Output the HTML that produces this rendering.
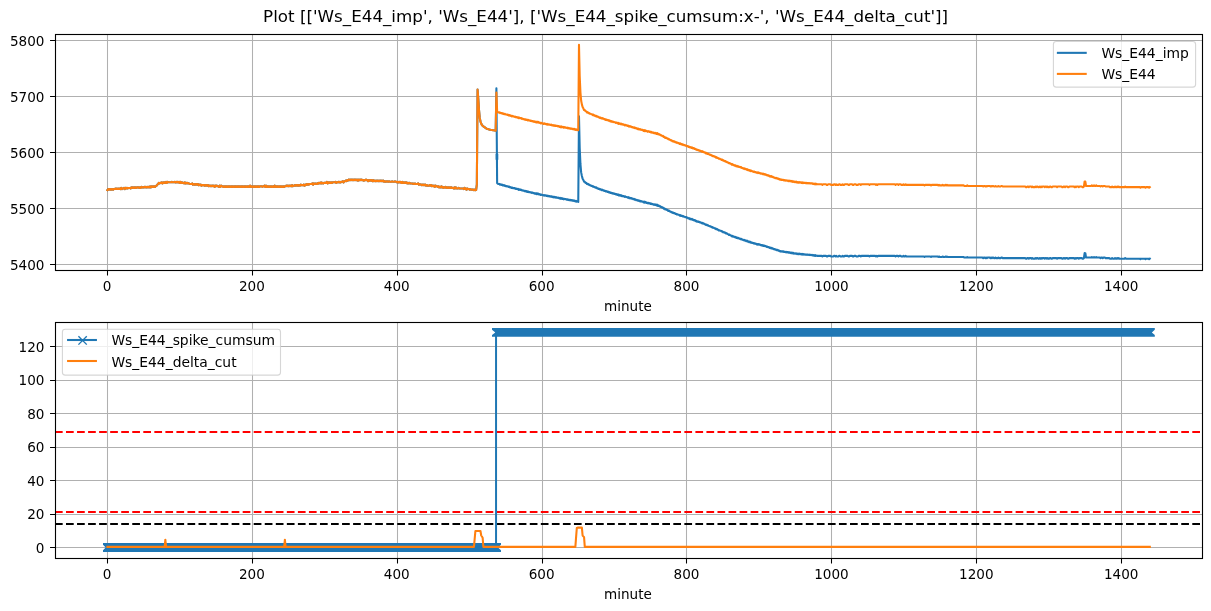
<!DOCTYPE html>
<html lang="en"><head><meta charset="utf-8"><title>Plot Ws_E44</title>
<style>html,body{margin:0;padding:0;background:#fff;overflow:hidden}svg{display:block}text{font-family:"DejaVu Sans","Liberation Sans",sans-serif;fill:#000}</style></head><body>
<svg width="1211" height="611" viewBox="0 0 1211 611">
<rect width="1211" height="611" fill="#fff"/>
<defs><clipPath id="ct"><rect x="55.5" y="34.5" width="1147" height="236"/></clipPath><clipPath id="cb"><rect x="55.5" y="322.5" width="1147" height="236"/></clipPath></defs>
<text x="605.6" y="22.3" font-size="16.73" text-anchor="middle">Plot [['Ws_E44_imp', 'Ws_E44'], ['Ws_E44_spike_cumsum:x-', 'Ws_E44_delta_cut']]</text>
<path d="M107.5 34.5V270.5M252.5 34.5V270.5M397.5 34.5V270.5M542.5 34.5V270.5M686.5 34.5V270.5M831.5 34.5V270.5M976.5 34.5V270.5M1121.5 34.5V270.5M55.5 264.5H1202.5M55.5 208.5H1202.5M55.5 152.5H1202.5M55.5 96.5H1202.5M55.5 40.5H1202.5" stroke="#b0b0b0" stroke-width="1.05" fill="none"/>
<g clip-path="url(#ct)" fill="none" stroke-width="2.08" stroke-linejoin="round" stroke-linecap="square">
<polyline stroke="#1f77b4" points="107.4,190.17 108.12,189.05 108.85,189.61 109.57,189.05 110.3,189.61 111.02,189.05 111.75,189.61 112.47,189.05 113.2,189.61 113.92,189.05 114.64,189.05 115.37,188.49 116.09,189.05 116.82,188.49 117.54,189.05 118.27,188.49 118.99,189.05 119.71,188.49 120.44,189.05 121.16,187.93 121.89,189.05 122.61,188.49 123.34,188.49 124.06,187.93 124.79,189.05 125.51,187.93 126.23,188.49 126.96,187.93 127.68,188.49 128.41,187.93 129.13,187.93 129.86,187.93 130.58,188.49 131.31,187.37 132.03,187.93 132.75,187.37 133.48,187.93 134.2,187.37 134.93,187.93 135.65,187.37 136.38,187.93 137.1,187.37 137.82,187.37 138.55,187.37 139.27,187.93 140,187.37 140.72,187.93 141.45,186.81 142.17,187.37 142.9,187.37 143.62,187.37 144.34,186.81 145.07,187.37 145.79,186.81 146.52,187.37 147.24,186.81 147.97,187.37 148.69,186.81 149.42,187.37 150.14,186.25 150.86,187.37 151.59,186.25 152.31,186.81 153.04,186.25 153.76,186.81 154.49,186.25 155.21,186.81 155.93,185.69 156.66,185.69 157.38,184.57 158.11,184.01 158.83,182.89 159.56,183.45 160.28,182.89 161.01,182.89 161.73,182.33 162.45,183.45 163.18,182.33 163.9,182.89 164.63,182.33 165.35,182.89 166.08,181.77 166.8,182.89 167.53,181.77 168.25,182.33 168.97,182.33 169.7,182.33 170.42,182.33 171.15,182.33 171.87,181.77 172.6,182.33 173.32,182.33 174.04,182.33 174.77,181.77 175.49,182.33 176.22,181.77 176.94,182.33 177.67,181.77 178.39,182.33 179.12,181.77 179.84,182.89 180.56,181.77 181.29,182.89 182.01,182.33 182.74,182.89 183.46,182.89 184.19,183.45 184.91,182.33 185.64,183.45 186.36,182.89 187.08,183.45 187.81,182.89 188.53,183.45 189.26,183.45 189.98,184.01 190.71,184.01 191.43,184.01 192.15,183.45 192.88,184.57 193.6,184.01 194.33,184.57 195.05,184.01 195.78,184.57 196.5,184.01 197.23,184.57 197.95,184.01 198.67,185.13 199.4,184.57 200.12,185.13 200.85,184.57 201.57,185.69 202.3,185.13 203.02,185.13 203.75,185.13 204.47,185.69 205.19,185.13 205.92,185.69 206.64,185.13 207.37,185.69 208.09,185.13 208.82,186.25 209.54,185.69 210.26,186.25 210.99,185.69 211.71,186.25 212.44,185.69 213.16,186.25 213.89,185.69 214.61,186.81 215.34,185.69 216.06,186.25 216.78,185.69 217.51,186.25 218.23,186.25 218.96,186.81 219.68,185.69 220.41,186.81 221.13,185.69 221.86,186.25 222.58,186.25 223.3,186.81 224.03,186.25 224.75,186.81 225.48,186.25 226.2,186.81 226.93,186.25 227.65,186.81 228.37,186.25 229.1,186.81 229.82,186.25 230.55,186.81 231.27,186.25 232,186.81 232.72,186.25 233.45,186.81 234.17,186.25 234.89,186.81 235.62,186.25 236.34,186.81 237.07,186.25 237.79,186.81 238.52,186.25 239.24,186.81 239.97,186.25 240.69,186.81 241.41,186.25 242.14,186.81 242.86,186.25 243.59,186.81 244.31,186.25 245.04,186.81 245.76,186.25 246.48,186.81 247.21,186.25 247.93,186.81 248.66,186.25 249.38,186.81 250.11,185.69 250.83,186.81 251.56,186.25 252.28,186.81 253,186.25 253.73,186.81 254.45,186.25 255.18,186.81 255.9,186.25 256.63,186.81 257.35,186.25 258.08,186.81 258.8,186.25 259.52,186.81 260.25,186.25 260.97,186.25 261.7,186.25 262.42,186.81 263.15,186.25 263.87,186.25 264.59,185.69 265.32,186.81 266.04,185.69 266.77,186.81 267.49,186.25 268.22,186.81 268.94,186.25 269.67,186.81 270.39,186.25 271.11,186.81 271.84,186.25 272.56,186.81 273.29,186.25 274.01,186.81 274.74,185.69 275.46,186.81 276.19,186.25 276.91,186.81 277.63,186.25 278.36,186.81 279.08,186.25 279.81,186.81 280.53,186.25 281.26,186.81 281.98,186.25 282.7,186.81 283.43,186.25 284.15,186.81 284.88,186.25 285.6,186.25 286.33,185.69 287.05,186.25 287.78,185.69 288.5,186.25 289.22,185.69 289.95,186.25 290.67,185.69 291.4,186.25 292.12,185.13 292.85,186.25 293.57,185.69 294.3,185.69 295.02,185.13 295.74,185.69 296.47,185.13 297.19,185.69 297.92,185.13 298.64,185.69 299.37,185.13 300.09,185.69 300.81,184.57 301.54,185.13 302.26,185.13 302.99,185.13 303.71,184.57 304.44,185.69 305.16,184.57 305.89,185.13 306.61,184.01 307.33,184.57 308.06,184.01 308.78,184.57 309.51,184.01 310.23,184.01 310.96,184.01 311.68,184.01 312.41,183.45 313.13,184.57 313.85,183.45 314.58,184.01 315.3,183.45 316.03,184.01 316.75,183.45 317.48,184.01 318.2,182.89 318.92,183.45 319.65,182.89 320.37,183.45 321.1,182.33 321.82,183.45 322.55,182.89 323.27,183.45 324,182.89 324.72,182.89 325.44,182.89 326.17,182.89 326.89,181.77 327.62,183.45 328.34,182.33 329.07,182.89 329.79,182.33 330.52,182.89 331.24,182.33 331.96,182.89 332.69,182.33 333.41,182.33 334.14,182.33 334.86,182.33 335.59,181.77 336.31,182.89 337.03,182.33 337.76,182.33 338.48,181.77 339.21,182.33 339.93,181.77 340.66,182.33 341.38,181.77 342.11,181.77 342.83,181.21 343.55,182.33 344.28,181.21 345,181.21 345.73,180.65 346.45,181.21 347.18,180.09 347.9,180.66 348.63,179.54 349.35,180.1 350.07,179.54 350.8,180.1 351.52,179.54 352.25,180.1 352.97,179.54 353.7,180.1 354.42,179.54 355.14,180.1 355.87,179.54 356.59,180.1 357.32,179.54 358.04,180.66 358.77,179.54 359.49,180.1 360.22,179.54 360.94,180.1 361.66,179.54 362.39,180.1 363.11,180.09 363.84,180.66 364.56,180.09 365.29,180.1 366.01,179.54 366.74,180.1 367.46,180.09 368.18,181.21 368.91,180.09 369.63,180.66 370.36,180.09 371.08,180.66 371.81,180.09 372.53,181.21 373.25,180.09 373.98,181.21 374.7,180.65 375.43,181.21 376.15,180.65 376.88,181.21 377.6,180.65 378.33,181.21 379.05,180.65 379.77,181.21 380.5,180.65 381.22,181.21 381.95,180.65 382.67,181.21 383.4,180.65 384.12,181.77 384.85,181.21 385.57,181.77 386.29,181.21 387.02,181.77 387.74,181.21 388.47,181.77 389.19,181.21 389.92,181.77 390.64,181.77 391.36,181.77 392.09,181.21 392.81,181.77 393.54,181.77 394.26,181.77 394.99,181.21 395.71,181.77 396.44,181.77 397.16,182.33 397.88,181.77 398.61,182.33 399.33,181.77 400.06,182.33 400.78,181.77 401.51,182.89 402.23,181.77 402.96,182.89 403.68,182.33 404.4,182.89 405.13,182.33 405.85,182.89 406.58,182.33 407.3,183.45 408.03,182.89 408.75,183.45 409.47,182.89 410.2,183.45 410.92,183.45 411.65,183.45 412.37,183.45 413.1,184.01 413.82,183.45 414.55,184.01 415.27,183.45 415.99,184.01 416.72,184.01 417.44,184.01 418.17,183.45 418.89,184.57 419.62,184.01 420.34,184.57 421.07,184.57 421.79,185.13 422.51,184.57 423.24,185.13 423.96,184.57 424.69,185.13 425.41,184.57 426.14,185.69 426.86,185.13 427.58,185.69 428.31,185.69 429.03,185.69 429.76,185.13 430.48,185.69 431.21,185.13 431.93,186.25 432.66,185.69 433.38,186.25 434.1,185.69 434.83,186.81 435.55,185.69 436.28,186.25 437,186.25 437.73,186.81 438.45,186.25 439.18,187.37 439.9,186.81 440.62,187.37 441.35,186.25 442.07,187.37 442.8,186.81 443.52,187.93 444.25,187.37 444.97,187.37 445.69,186.81 446.42,187.93 447.14,187.37 447.87,187.93 448.59,187.37 449.32,187.93 450.04,187.37 450.77,187.93 451.49,187.37 452.21,187.93 452.94,187.93 453.66,188.49 454.39,187.37 455.11,188.49 455.84,187.37 456.56,188.49 457.29,188.49 458.01,188.49 458.73,187.93 459.46,188.49 460.18,188.49 460.91,188.49 461.63,188.49 462.36,188.49 463.08,188.49 463.8,189.05 464.53,187.93 465.25,189.05 465.98,188.49 466.7,189.61 467.43,188.49 468.15,189.05 468.88,189.05 469.6,189.61 470.32,189.05 471.05,189.61 471.77,189.61 472.5,189.61 473.22,189.61 473.95,190.17 474.67,189.61 475.4,190.17 476.12,190.04 476.84,184.39 477.57,89.6 478.29,98.91 479.02,110.18 479.74,117.91 480.47,121.34 481.19,123.57 481.91,125.02 482.64,125.82 483.36,126.3 484.09,126.85 484.81,127.4 485.54,127.95 486.26,128.49 486.99,128.78 487.71,128.99 488.43,129.21 489.16,129.43 489.88,129.64 490.61,129.84 491.33,129.96 492.06,130.08 492.78,130.2 493.51,130.33 494.23,130.45 494.95,130.57 495.68,130.7 496.4,88.3 497.13,183.01 497.85,183.79 498.58,183.99 499.3,183.91 500.02,184.7 500.75,184.41 501.47,184.99 502.2,184.67 502.92,185.5 503.65,185.06 504.37,185.82 505.1,185.51 505.82,186.14 506.54,186.04 507.27,186.54 507.99,186.27 508.72,186.99 509.44,186.59 510.17,187.47 510.89,187.16 511.62,187.96 512.34,187.51 513.06,188.16 513.79,187.93 514.51,188.45 515.24,188.22 515.96,189.02 516.69,188.64 517.41,189.22 518.13,188.81 518.86,189.87 519.58,189.27 520.31,189.9 521.03,189.57 521.76,190.44 522.48,190.18 523.21,190.81 523.93,190.55 524.65,191.2 525.38,190.85 526.1,191.64 526.83,191.13 527.55,191.94 528.28,191.5 529,192.22 529.73,191.97 530.45,192.57 531.17,192.27 531.9,192.9 532.62,192.57 533.35,193.24 534.07,193 534.8,193.61 535.52,193.21 536.24,194.08 536.97,193.22 537.69,194.12 538.42,193.55 539.14,194.54 539.87,194.18 540.59,194.92 541.32,194.48 542.04,195.08 542.76,194.93 543.49,195.48 544.21,194.99 544.94,195.6 545.66,195.33 546.39,195.93 547.11,195.5 547.84,196.26 548.56,195.84 549.28,196.42 550.01,196.2 550.73,196.67 551.46,196.23 552.18,197.07 552.91,196.62 553.63,197.31 554.35,196.83 555.08,197.57 555.8,197.08 556.53,197.67 557.25,197.48 557.98,198 558.7,197.65 559.43,198.43 560.15,197.94 560.87,198.9 561.6,198.06 562.32,198.82 563.05,198.47 563.77,199.29 564.5,198.7 565.22,199.28 565.95,199.11 566.67,199.6 567.39,199.25 568.12,200.06 568.84,199.48 569.57,200.19 570.29,199.86 571.02,200.49 571.74,200.12 572.46,200.69 573.19,200.35 573.91,200.95 574.64,200.48 575.36,201.5 576.09,200.95 576.81,201.69 577.54,201.08 578.26,201.87 578.98,116.3 579.71,147.91 580.43,163.95 581.16,172.38 581.88,176 582.61,178.65 583.33,179.94 584.06,181.61 584.78,181.74 585.5,182.89 586.23,182.87 586.95,184.01 587.68,183.71 588.4,184.74 589.13,184.53 589.85,185.29 590.57,185.33 591.3,185.86 592.02,185.85 592.75,186.66 593.47,186.23 594.2,187.26 594.92,187 595.65,187.8 596.37,187.43 597.09,188.4 597.82,188.19 598.54,188.94 599.27,188.81 599.99,189.56 600.72,189.24 601.44,190.1 602.17,189.58 602.89,190.39 603.61,190.18 604.34,190.98 605.06,190.76 605.79,191.52 606.51,191.11 607.24,191.91 607.96,191.55 608.68,192.34 609.41,192.01 610.13,192.95 610.86,192.49 611.58,193.31 612.31,193.02 613.03,193.7 613.76,193.36 614.48,193.91 615.2,193.8 615.93,194.48 616.65,194.16 617.38,194.93 618.1,194.34 618.83,195.52 619.55,194.92 620.28,195.68 621,195.11 621.72,196.1 622.45,195.71 623.17,196.39 623.9,196.08 624.62,196.93 625.35,196.4 626.07,197.1 626.79,196.95 627.52,197.59 628.24,197.19 628.97,198.21 629.69,197.66 630.42,198.4 631.14,198.1 631.87,198.81 632.59,198.53 633.31,199.3 634.04,198.88 634.76,199.7 635.49,199.41 636.21,200.2 636.94,199.87 637.66,200.67 638.39,200.27 639.11,201.08 639.83,200.65 640.56,201.41 641.28,201.16 642.01,201.6 642.73,201.45 643.46,202.47 644.18,201.59 644.9,202.67 645.63,201.96 646.35,202.91 647.08,202.66 647.8,203.39 648.53,202.77 649.25,203.47 649.98,203.08 650.7,204.03 651.42,203.54 652.15,204.31 652.87,203.95 653.6,204.7 654.32,204.33 655.05,205.03 655.77,204.47 656.5,205.51 657.22,204.71 657.94,205.85 658.67,205.4 659.39,206.36 660.12,206.13 660.84,207.07 661.57,206.91 662.29,207.8 663.01,207.52 663.74,208.64 664.46,208.3 665.19,209.41 665.91,209.06 666.64,209.93 667.36,209.85 668.09,210.82 668.81,210.44 669.53,211.42 670.26,211.4 670.98,212.08 671.71,211.89 672.43,212.92 673.16,212.56 673.88,213.24 674.61,213 675.33,214.01 676.05,213.72 676.78,214.52 677.5,214.19 678.23,214.83 678.95,214.7 679.68,215.56 680.4,215.06 681.12,216.03 681.85,215.58 682.57,216.44 683.3,216.14 684.02,216.76 684.75,216.74 685.47,217.32 686.2,217.08 686.92,217.85 687.64,217.65 688.37,218.47 689.09,218.13 689.82,219.09 690.54,218.67 691.27,219.43 691.99,218.88 692.72,219.96 693.44,219.66 694.16,220.43 694.89,220.13 695.61,221.1 696.34,220.84 697.06,221.75 697.79,221.37 698.51,222.01 699.23,221.81 699.96,222.47 700.68,222.38 701.41,223.16 702.13,222.77 702.86,223.64 703.58,223.33 704.31,224.11 705.03,224.01 705.75,225.01 706.48,224.52 707.2,225.42 707.93,225.08 708.65,225.91 709.38,225.92 710.1,226.54 710.83,226.38 711.55,227.2 712.27,227.03 713,227.84 713.72,227.66 714.45,228.36 715.17,228.23 715.9,229.25 716.62,228.77 717.34,229.68 718.07,229.64 718.79,230.42 719.52,230.25 720.24,230.79 720.97,230.79 721.69,231.52 722.42,231.27 723.14,232.33 723.86,232.16 724.59,232.77 725.31,232.57 726.04,233.5 726.76,233.3 727.49,234.06 728.21,234.17 728.94,234.88 729.66,234.54 730.38,235.41 731.11,235.45 731.83,236.32 732.56,235.8 733.28,236.76 734.01,236.61 734.73,237.18 735.45,236.92 736.18,237.92 736.9,237.39 737.63,238.22 738.35,237.81 739.08,238.67 739.8,238.5 740.53,239.15 741.25,238.79 741.97,239.66 742.7,239.58 743.42,240.22 744.15,239.83 744.87,240.71 745.6,240.42 746.32,241.19 747.05,240.68 747.77,241.69 748.49,241.32 749.22,242.23 749.94,241.7 750.67,242.74 751.39,242.27 752.12,242.95 752.84,242.89 753.56,243.45 754.29,243.16 755.01,243.84 755.74,243.59 756.46,244.33 757.19,243.95 757.91,244.66 758.64,244.04 759.36,244.78 760.08,244.59 760.81,245.21 761.53,244.98 762.26,245.69 762.98,245.15 763.71,245.93 764.43,245.54 765.16,246.3 765.88,246.03 766.6,246.92 767.33,246.67 768.05,247.24 768.78,246.96 769.5,247.98 770.23,247.6 770.95,248.33 771.67,247.76 772.4,248.69 773.12,248.49 773.85,249.22 774.57,249.16 775.3,249.78 776.02,249.48 776.75,250.14 777.47,249.83 778.19,250.67 778.92,250.36 779.64,251.2 780.37,250.95 781.09,251.61 781.82,251.24 782.54,251.67 783.27,251.38 783.99,252.05 784.71,251.73 785.44,252.22 786.16,251.83 786.89,252.38 787.61,252.06 788.34,252.72 789.06,252.17 789.78,252.86 790.51,252.45 791.23,253.18 791.96,252.55 792.68,253.43 793.41,252.86 794.13,253.75 794.86,253.26 795.58,253.74 796.3,253.27 797.03,254.24 797.75,253.57 798.48,254.19 799.2,253.6 799.93,254.26 800.65,253.87 801.38,254.48 802.1,253.84 802.82,254.68 803.55,254.1 804.27,254.6 805,254.31 805.72,254.82 806.45,254.43 807.17,254.93 807.89,254.53 808.62,254.96 809.34,254.67 810.07,255.11 810.79,254.79 811.52,255.15 812.24,254.91 812.97,255.62 813.69,255.11 814.41,255.81 815.14,255.09 815.86,255.99 816.59,255.5 817.31,255.89 818.04,255.89 818.76,255.89 819.49,255.89 820.21,255.89 820.93,255.89 821.66,255.89 822.38,256.45 823.11,255.89 823.83,255.89 824.56,255.89 825.28,255.89 826,255.89 826.73,256.45 827.45,256.45 828.18,255.89 828.9,255.89 829.63,255.89 830.35,255.89 831.08,256.45 831.8,256.45 832.52,256.45 833.25,256.45 833.97,255.89 834.7,255.89 835.42,256.45 836.15,255.89 836.87,256.45 837.6,256.45 838.32,256.45 839.04,255.89 839.77,255.89 840.49,256.45 841.22,256.45 841.94,256.45 842.67,255.89 843.39,256.45 844.11,256.45 844.84,255.89 845.56,255.89 846.29,255.89 847.01,255.89 847.74,255.89 848.46,256.45 849.19,256.45 849.91,255.89 850.63,255.89 851.36,255.89 852.08,255.89 852.81,256.45 853.53,256.45 854.26,255.89 854.98,255.89 855.71,255.89 856.43,256.45 857.15,256.45 857.88,256.45 858.6,255.89 859.33,255.89 860.05,255.89 860.78,256.45 861.5,255.89 862.22,255.89 862.95,255.89 863.67,255.89 864.4,255.89 865.12,255.89 865.85,255.89 866.57,255.89 867.3,255.89 868.02,255.89 868.74,255.89 869.47,256.45 870.19,255.89 870.92,255.89 871.64,255.89 872.37,255.89 873.09,255.89 873.82,255.89 874.54,255.89 875.26,255.89 875.99,256.45 876.71,255.89 877.44,256.45 878.16,255.89 878.89,255.89 879.61,255.89 880.33,255.89 881.06,255.89 881.78,255.89 882.51,255.89 883.23,255.89 883.96,255.89 884.68,255.89 885.41,255.89 886.13,255.89 886.85,255.89 887.58,255.89 888.3,255.89 889.03,255.89 889.75,255.89 890.48,255.89 891.2,255.89 891.93,255.89 892.65,255.89 893.37,255.89 894.1,255.89 894.82,255.89 895.55,256.45 896.27,255.89 897,255.89 897.72,255.89 898.44,256.45 899.17,255.89 899.89,255.89 900.62,255.89 901.34,256.45 902.07,256.45 902.79,256.45 903.52,255.89 904.24,256.45 904.96,256.45 905.69,255.89 906.41,256.45 907.14,256.45 907.86,256.45 908.59,256.45 909.31,256.45 910.04,256.45 910.76,256.45 911.48,256.45 912.21,256.45 912.93,256.45 913.66,256.45 914.38,256.45 915.11,256.45 915.83,256.45 916.55,256.45 917.28,256.45 918,256.45 918.73,256.45 919.45,256.45 920.18,256.45 920.9,256.45 921.63,256.45 922.35,256.45 923.07,256.45 923.8,256.45 924.52,257.01 925.25,256.45 925.97,256.45 926.7,256.45 927.42,256.45 928.15,256.45 928.87,256.45 929.59,256.45 930.32,256.45 931.04,257.01 931.77,256.45 932.49,256.45 933.22,256.45 933.94,256.45 934.66,256.45 935.39,256.45 936.11,256.45 936.84,256.45 937.56,256.45 938.29,257.01 939.01,256.45 939.74,257.01 940.46,257.01 941.18,257.01 941.91,257.01 942.63,256.45 943.36,257.01 944.08,257.01 944.81,257.01 945.53,256.45 946.26,257.01 946.98,256.45 947.7,257.01 948.43,257.01 949.15,257.01 949.88,257.01 950.6,257.01 951.33,257.01 952.05,257.01 952.77,257.01 953.5,257.01 954.22,257.01 954.95,257.01 955.67,257.01 956.4,257.01 957.12,257.01 957.85,257.01 958.57,257.01 959.29,257.01 960.02,257.01 960.74,257.01 961.47,257.01 962.19,257.01 962.92,257.01 963.64,257.01 964.37,257.57 965.09,257.57 965.81,257.57 966.54,257.57 967.26,257.01 967.99,257.57 968.71,257.57 969.44,257.57 970.16,257.57 970.88,257.57 971.61,257.57 972.33,257.57 973.06,257.57 973.78,257.57 974.51,257.57 975.23,257.57 975.96,257.57 976.68,257.57 977.4,257.57 978.13,257.57 978.85,257.57 979.58,257.57 980.3,257.57 981.03,257.57 981.75,257.57 982.48,257.57 983.2,258.13 983.92,257.57 984.65,257.57 985.37,258.13 986.1,257.57 986.82,258.13 987.55,257.57 988.27,257.57 988.99,257.57 989.72,257.57 990.44,258.13 991.17,257.57 991.89,258.13 992.62,257.57 993.34,257.57 994.07,258.13 994.79,258.13 995.51,257.57 996.24,258.13 996.96,258.13 997.69,258.13 998.41,257.57 999.14,258.13 999.86,258.13 1000.59,258.13 1001.31,257.57 1002.03,257.57 1002.76,258.13 1003.48,258.13 1004.21,258.13 1004.93,258.13 1005.66,258.13 1006.38,258.13 1007.1,258.13 1007.83,258.13 1008.55,258.13 1009.28,258.13 1010,258.13 1010.73,258.13 1011.45,258.13 1012.18,258.13 1012.9,258.13 1013.62,258.13 1014.35,258.13 1015.07,258.13 1015.8,258.13 1016.52,258.13 1017.25,258.13 1017.97,258.13 1018.7,258.13 1019.42,258.13 1020.14,258.13 1020.87,258.13 1021.59,258.13 1022.32,258.13 1023.04,258.13 1023.77,258.13 1024.49,258.13 1025.21,258.13 1025.94,258.69 1026.66,258.69 1027.39,258.13 1028.11,258.13 1028.84,258.69 1029.56,258.13 1030.29,258.13 1031.01,258.13 1031.73,258.69 1032.46,258.13 1033.18,258.69 1033.91,258.69 1034.63,258.69 1035.36,258.13 1036.08,258.69 1036.81,258.13 1037.53,258.13 1038.25,258.69 1038.98,258.69 1039.7,258.13 1040.43,258.69 1041.15,258.13 1041.88,258.69 1042.6,258.13 1043.32,258.13 1044.05,258.13 1044.77,258.69 1045.5,258.13 1046.22,258.13 1046.95,258.69 1047.67,258.13 1048.4,258.69 1049.12,258.69 1049.84,258.13 1050.57,258.13 1051.29,258.69 1052.02,258.69 1052.74,258.13 1053.47,258.13 1054.19,258.13 1054.92,258.13 1055.64,258.13 1056.36,258.13 1057.09,258.69 1057.81,258.13 1058.54,258.13 1059.26,258.13 1059.99,258.13 1060.71,258.13 1061.43,258.13 1062.16,258.69 1062.88,258.69 1063.61,258.13 1064.33,258.13 1065.06,258.69 1065.78,258.13 1066.51,258.13 1067.23,258.13 1067.95,258.69 1068.68,258.69 1069.4,258.13 1070.13,258.13 1070.85,258.13 1071.58,258.13 1072.3,258.13 1073.03,258.13 1073.75,258.13 1074.47,258.69 1075.2,258.13 1075.92,258.69 1076.65,258.13 1077.37,258.13 1078.1,258.13 1078.82,258.69 1079.54,258.13 1080.27,258.13 1080.99,258.13 1081.72,258.13 1082.44,258.69 1083.17,258.69 1083.89,258.13 1084.62,253.09 1085.34,253.2 1086.06,257.57 1086.79,257.57 1087.51,257.57 1088.24,257.57 1088.96,257.57 1089.69,257.57 1090.41,257.57 1091.14,257.57 1091.86,257.01 1092.58,257.57 1093.31,257.57 1094.03,257.01 1094.76,257.57 1095.48,257.57 1096.21,257.01 1096.93,257.57 1097.65,257.57 1098.38,257.57 1099.1,257.57 1099.83,257.57 1100.55,258.13 1101.28,257.57 1102,257.57 1102.73,258.13 1103.45,257.57 1104.17,257.57 1104.9,257.57 1105.62,258.13 1106.35,258.13 1107.07,258.13 1107.8,258.13 1108.52,258.13 1109.25,258.13 1109.97,258.69 1110.69,258.69 1111.42,258.69 1112.14,258.13 1112.87,258.69 1113.59,258.69 1114.32,258.69 1115.04,258.13 1115.76,258.69 1116.49,258.69 1117.21,258.13 1117.94,258.69 1118.66,258.13 1119.39,258.69 1120.11,258.69 1120.84,258.69 1121.56,258.69 1122.28,258.69 1123.01,258.69 1123.73,258.69 1124.46,258.69 1125.18,258.13 1125.91,258.69 1126.63,258.69 1127.36,258.69 1128.08,258.69 1128.8,258.69 1129.53,258.69 1130.25,258.69 1130.98,258.69 1131.7,258.69 1132.43,258.69 1133.15,258.69 1133.87,258.69 1134.6,258.69 1135.32,258.69 1136.05,258.69 1136.77,258.69 1137.5,258.69 1138.22,258.69 1138.95,258.69 1139.67,258.69 1140.39,259.25 1141.12,258.69 1141.84,258.69 1142.57,258.69 1143.29,258.69 1144.02,258.69 1144.74,258.69 1145.47,259.25 1146.19,258.69 1146.91,258.69 1147.64,258.69 1148.36,258.69 1149.09,259.25 1149.81,258.69"/>
<path d="M496.95 153.8V159.8" stroke="#1f77b4" stroke-width="2.7" stroke-linecap="butt"/>
<polyline stroke="#ff7f0e" points="107.4,190.17 108.12,189.05 108.85,189.61 109.57,189.05 110.3,189.61 111.02,189.05 111.75,189.61 112.47,189.05 113.2,189.61 113.92,189.05 114.64,189.05 115.37,188.49 116.09,189.05 116.82,188.49 117.54,189.05 118.27,188.49 118.99,189.05 119.71,188.49 120.44,189.05 121.16,187.93 121.89,189.05 122.61,188.49 123.34,188.49 124.06,187.93 124.79,189.05 125.51,187.93 126.23,188.49 126.96,187.93 127.68,188.49 128.41,187.93 129.13,187.93 129.86,187.93 130.58,188.49 131.31,187.37 132.03,187.93 132.75,187.37 133.48,187.93 134.2,187.37 134.93,187.93 135.65,187.37 136.38,187.93 137.1,187.37 137.82,187.37 138.55,187.37 139.27,187.93 140,187.37 140.72,187.93 141.45,186.81 142.17,187.37 142.9,187.37 143.62,187.37 144.34,186.81 145.07,187.37 145.79,186.81 146.52,187.37 147.24,186.81 147.97,187.37 148.69,186.81 149.42,187.37 150.14,186.25 150.86,187.37 151.59,186.25 152.31,186.81 153.04,186.25 153.76,186.81 154.49,186.25 155.21,186.81 155.93,185.69 156.66,185.69 157.38,184.57 158.11,184.01 158.83,182.89 159.56,183.45 160.28,182.89 161.01,182.89 161.73,182.33 162.45,183.45 163.18,182.33 163.9,182.89 164.63,182.33 165.35,182.89 166.08,181.77 166.8,182.89 167.53,181.77 168.25,182.33 168.97,182.33 169.7,182.33 170.42,182.33 171.15,182.33 171.87,181.77 172.6,182.33 173.32,182.33 174.04,182.33 174.77,181.77 175.49,182.33 176.22,181.77 176.94,182.33 177.67,181.77 178.39,182.33 179.12,181.77 179.84,182.89 180.56,181.77 181.29,182.89 182.01,182.33 182.74,182.89 183.46,182.89 184.19,183.45 184.91,182.33 185.64,183.45 186.36,182.89 187.08,183.45 187.81,182.89 188.53,183.45 189.26,183.45 189.98,184.01 190.71,184.01 191.43,184.01 192.15,183.45 192.88,184.57 193.6,184.01 194.33,184.57 195.05,184.01 195.78,184.57 196.5,184.01 197.23,184.57 197.95,184.01 198.67,185.13 199.4,184.57 200.12,185.13 200.85,184.57 201.57,185.69 202.3,185.13 203.02,185.13 203.75,185.13 204.47,185.69 205.19,185.13 205.92,185.69 206.64,185.13 207.37,185.69 208.09,185.13 208.82,186.25 209.54,185.69 210.26,186.25 210.99,185.69 211.71,186.25 212.44,185.69 213.16,186.25 213.89,185.69 214.61,186.81 215.34,185.69 216.06,186.25 216.78,185.69 217.51,186.25 218.23,186.25 218.96,186.81 219.68,185.69 220.41,186.81 221.13,185.69 221.86,186.25 222.58,186.25 223.3,186.81 224.03,186.25 224.75,186.81 225.48,186.25 226.2,186.81 226.93,186.25 227.65,186.81 228.37,186.25 229.1,186.81 229.82,186.25 230.55,186.81 231.27,186.25 232,186.81 232.72,186.25 233.45,186.81 234.17,186.25 234.89,186.81 235.62,186.25 236.34,186.81 237.07,186.25 237.79,186.81 238.52,186.25 239.24,186.81 239.97,186.25 240.69,186.81 241.41,186.25 242.14,186.81 242.86,186.25 243.59,186.81 244.31,186.25 245.04,186.81 245.76,186.25 246.48,186.81 247.21,186.25 247.93,186.81 248.66,186.25 249.38,186.81 250.11,185.69 250.83,186.81 251.56,186.25 252.28,186.81 253,186.25 253.73,186.81 254.45,186.25 255.18,186.81 255.9,186.25 256.63,186.81 257.35,186.25 258.08,186.81 258.8,186.25 259.52,186.81 260.25,186.25 260.97,186.25 261.7,186.25 262.42,186.81 263.15,186.25 263.87,186.25 264.59,185.69 265.32,186.81 266.04,185.69 266.77,186.81 267.49,186.25 268.22,186.81 268.94,186.25 269.67,186.81 270.39,186.25 271.11,186.81 271.84,186.25 272.56,186.81 273.29,186.25 274.01,186.81 274.74,185.69 275.46,186.81 276.19,186.25 276.91,186.81 277.63,186.25 278.36,186.81 279.08,186.25 279.81,186.81 280.53,186.25 281.26,186.81 281.98,186.25 282.7,186.81 283.43,186.25 284.15,186.81 284.88,186.25 285.6,186.25 286.33,185.69 287.05,186.25 287.78,185.69 288.5,186.25 289.22,185.69 289.95,186.25 290.67,185.69 291.4,186.25 292.12,185.13 292.85,186.25 293.57,185.69 294.3,185.69 295.02,185.13 295.74,185.69 296.47,185.13 297.19,185.69 297.92,185.13 298.64,185.69 299.37,185.13 300.09,185.69 300.81,184.57 301.54,185.13 302.26,185.13 302.99,185.13 303.71,184.57 304.44,185.69 305.16,184.57 305.89,185.13 306.61,184.01 307.33,184.57 308.06,184.01 308.78,184.57 309.51,184.01 310.23,184.01 310.96,184.01 311.68,184.01 312.41,183.45 313.13,184.57 313.85,183.45 314.58,184.01 315.3,183.45 316.03,184.01 316.75,183.45 317.48,184.01 318.2,182.89 318.92,183.45 319.65,182.89 320.37,183.45 321.1,182.33 321.82,183.45 322.55,182.89 323.27,183.45 324,182.89 324.72,182.89 325.44,182.89 326.17,182.89 326.89,181.77 327.62,183.45 328.34,182.33 329.07,182.89 329.79,182.33 330.52,182.89 331.24,182.33 331.96,182.89 332.69,182.33 333.41,182.33 334.14,182.33 334.86,182.33 335.59,181.77 336.31,182.89 337.03,182.33 337.76,182.33 338.48,181.77 339.21,182.33 339.93,181.77 340.66,182.33 341.38,181.77 342.11,181.77 342.83,181.21 343.55,182.33 344.28,181.21 345,181.21 345.73,180.65 346.45,181.21 347.18,180.09 347.9,180.66 348.63,179.54 349.35,180.1 350.07,179.54 350.8,180.1 351.52,179.54 352.25,180.1 352.97,179.54 353.7,180.1 354.42,179.54 355.14,180.1 355.87,179.54 356.59,180.1 357.32,179.54 358.04,180.66 358.77,179.54 359.49,180.1 360.22,179.54 360.94,180.1 361.66,179.54 362.39,180.1 363.11,180.09 363.84,180.66 364.56,180.09 365.29,180.1 366.01,179.54 366.74,180.1 367.46,180.09 368.18,181.21 368.91,180.09 369.63,180.66 370.36,180.09 371.08,180.66 371.81,180.09 372.53,181.21 373.25,180.09 373.98,181.21 374.7,180.65 375.43,181.21 376.15,180.65 376.88,181.21 377.6,180.65 378.33,181.21 379.05,180.65 379.77,181.21 380.5,180.65 381.22,181.21 381.95,180.65 382.67,181.21 383.4,180.65 384.12,181.77 384.85,181.21 385.57,181.77 386.29,181.21 387.02,181.77 387.74,181.21 388.47,181.77 389.19,181.21 389.92,181.77 390.64,181.77 391.36,181.77 392.09,181.21 392.81,181.77 393.54,181.77 394.26,181.77 394.99,181.21 395.71,181.77 396.44,181.77 397.16,182.33 397.88,181.77 398.61,182.33 399.33,181.77 400.06,182.33 400.78,181.77 401.51,182.89 402.23,181.77 402.96,182.89 403.68,182.33 404.4,182.89 405.13,182.33 405.85,182.89 406.58,182.33 407.3,183.45 408.03,182.89 408.75,183.45 409.47,182.89 410.2,183.45 410.92,183.45 411.65,183.45 412.37,183.45 413.1,184.01 413.82,183.45 414.55,184.01 415.27,183.45 415.99,184.01 416.72,184.01 417.44,184.01 418.17,183.45 418.89,184.57 419.62,184.01 420.34,184.57 421.07,184.57 421.79,185.13 422.51,184.57 423.24,185.13 423.96,184.57 424.69,185.13 425.41,184.57 426.14,185.69 426.86,185.13 427.58,185.69 428.31,185.69 429.03,185.69 429.76,185.13 430.48,185.69 431.21,185.13 431.93,186.25 432.66,185.69 433.38,186.25 434.1,185.69 434.83,186.81 435.55,185.69 436.28,186.25 437,186.25 437.73,186.81 438.45,186.25 439.18,187.37 439.9,186.81 440.62,187.37 441.35,186.25 442.07,187.37 442.8,186.81 443.52,187.93 444.25,187.37 444.97,187.37 445.69,186.81 446.42,187.93 447.14,187.37 447.87,187.93 448.59,187.37 449.32,187.93 450.04,187.37 450.77,187.93 451.49,187.37 452.21,187.93 452.94,187.93 453.66,188.49 454.39,187.37 455.11,188.49 455.84,187.37 456.56,188.49 457.29,188.49 458.01,188.49 458.73,187.93 459.46,188.49 460.18,188.49 460.91,188.49 461.63,188.49 462.36,188.49 463.08,188.49 463.8,189.05 464.53,187.93 465.25,189.05 465.98,188.49 466.7,189.61 467.43,188.49 468.15,189.05 468.88,189.05 469.6,189.61 470.32,189.05 471.05,189.61 471.77,189.61 472.5,189.61 473.22,189.61 473.95,190.17 474.67,189.61 475.4,190.17 476.12,190.04 476.84,184.39 477.57,89.6 478.29,98.91 479.02,110.18 479.74,117.91 480.47,121.34 481.19,123.57 481.91,125.02 482.64,125.82 483.36,126.3 484.09,126.85 484.81,127.4 485.54,127.95 486.26,128.49 486.99,128.78 487.71,128.99 488.43,129.21 489.16,129.43 489.88,129.64 490.61,129.84 491.33,129.96 492.06,130.08 492.78,130.2 493.51,130.33 494.23,130.45 494.95,130.57 495.68,130.7 496.4,92.6 497.13,111.41 497.85,112.19 498.58,112.39 499.3,112.31 500.02,113.1 500.75,112.81 501.47,113.39 502.2,113.07 502.92,113.9 503.65,113.46 504.37,114.22 505.1,113.91 505.82,114.54 506.54,114.44 507.27,114.94 507.99,114.67 508.72,115.39 509.44,114.99 510.17,115.87 510.89,115.56 511.62,116.36 512.34,115.91 513.06,116.56 513.79,116.33 514.51,116.85 515.24,116.62 515.96,117.42 516.69,117.04 517.41,117.62 518.13,117.21 518.86,118.27 519.58,117.67 520.31,118.3 521.03,117.97 521.76,118.84 522.48,118.58 523.21,119.21 523.93,118.95 524.65,119.6 525.38,119.25 526.1,120.04 526.83,119.53 527.55,120.34 528.28,119.9 529,120.62 529.73,120.37 530.45,120.97 531.17,120.67 531.9,121.3 532.62,120.97 533.35,121.64 534.07,121.4 534.8,122.01 535.52,121.61 536.24,122.48 536.97,121.62 537.69,122.52 538.42,121.95 539.14,122.94 539.87,122.58 540.59,123.32 541.32,122.88 542.04,123.48 542.76,123.33 543.49,123.88 544.21,123.39 544.94,124 545.66,123.73 546.39,124.33 547.11,123.9 547.84,124.66 548.56,124.24 549.28,124.82 550.01,124.6 550.73,125.07 551.46,124.63 552.18,125.47 552.91,125.02 553.63,125.71 554.35,125.23 555.08,125.97 555.8,125.48 556.53,126.07 557.25,125.88 557.98,126.4 558.7,126.05 559.43,126.83 560.15,126.34 560.87,127.3 561.6,126.46 562.32,127.22 563.05,126.87 563.77,127.69 564.5,127.1 565.22,127.68 565.95,127.51 566.67,128 567.39,127.65 568.12,128.46 568.84,127.88 569.57,128.59 570.29,128.26 571.02,128.89 571.74,128.52 572.46,129.09 573.19,128.75 573.91,129.35 574.64,128.88 575.36,129.9 576.09,129.35 576.81,130.09 577.54,129.48 578.26,130.27 578.98,44.7 579.71,76.31 580.43,92.35 581.16,100.78 581.88,104.4 582.61,107.05 583.33,108.34 584.06,110.01 584.78,110.14 585.5,111.29 586.23,111.27 586.95,112.41 587.68,112.11 588.4,113.14 589.13,112.93 589.85,113.69 590.57,113.73 591.3,114.26 592.02,114.25 592.75,115.06 593.47,114.63 594.2,115.66 594.92,115.4 595.65,116.2 596.37,115.83 597.09,116.8 597.82,116.59 598.54,117.34 599.27,117.21 599.99,117.96 600.72,117.64 601.44,118.5 602.17,117.98 602.89,118.79 603.61,118.58 604.34,119.38 605.06,119.16 605.79,119.92 606.51,119.51 607.24,120.31 607.96,119.95 608.68,120.74 609.41,120.41 610.13,121.35 610.86,120.89 611.58,121.71 612.31,121.42 613.03,122.1 613.76,121.76 614.48,122.31 615.2,122.2 615.93,122.88 616.65,122.56 617.38,123.33 618.1,122.74 618.83,123.92 619.55,123.32 620.28,124.08 621,123.51 621.72,124.5 622.45,124.11 623.17,124.79 623.9,124.48 624.62,125.33 625.35,124.8 626.07,125.5 626.79,125.35 627.52,125.99 628.24,125.59 628.97,126.61 629.69,126.06 630.42,126.8 631.14,126.5 631.87,127.21 632.59,126.93 633.31,127.7 634.04,127.28 634.76,128.1 635.49,127.81 636.21,128.6 636.94,128.27 637.66,129.07 638.39,128.67 639.11,129.48 639.83,129.05 640.56,129.81 641.28,129.56 642.01,130 642.73,129.85 643.46,130.87 644.18,129.99 644.9,131.07 645.63,130.36 646.35,131.31 647.08,131.06 647.8,131.79 648.53,131.17 649.25,131.87 649.98,131.48 650.7,132.43 651.42,131.94 652.15,132.71 652.87,132.35 653.6,133.1 654.32,132.73 655.05,133.43 655.77,132.87 656.5,133.91 657.22,133.11 657.94,134.25 658.67,133.8 659.39,134.76 660.12,134.53 660.84,135.47 661.57,135.31 662.29,136.2 663.01,135.92 663.74,137.04 664.46,136.7 665.19,137.81 665.91,137.46 666.64,138.33 667.36,138.25 668.09,139.22 668.81,138.84 669.53,139.82 670.26,139.8 670.98,140.48 671.71,140.29 672.43,141.32 673.16,140.96 673.88,141.64 674.61,141.4 675.33,142.41 676.05,142.12 676.78,142.92 677.5,142.59 678.23,143.23 678.95,143.1 679.68,143.96 680.4,143.46 681.12,144.43 681.85,143.98 682.57,144.84 683.3,144.54 684.02,145.16 684.75,145.14 685.47,145.72 686.2,145.48 686.92,146.25 687.64,146.05 688.37,146.87 689.09,146.53 689.82,147.49 690.54,147.07 691.27,147.83 691.99,147.28 692.72,148.36 693.44,148.06 694.16,148.83 694.89,148.53 695.61,149.5 696.34,149.24 697.06,150.15 697.79,149.77 698.51,150.41 699.23,150.21 699.96,150.87 700.68,150.78 701.41,151.56 702.13,151.17 702.86,152.04 703.58,151.73 704.31,152.51 705.03,152.41 705.75,153.41 706.48,152.92 707.2,153.82 707.93,153.48 708.65,154.31 709.38,154.32 710.1,154.94 710.83,154.78 711.55,155.6 712.27,155.43 713,156.24 713.72,156.06 714.45,156.76 715.17,156.63 715.9,157.65 716.62,157.17 717.34,158.08 718.07,158.04 718.79,158.82 719.52,158.65 720.24,159.19 720.97,159.19 721.69,159.92 722.42,159.67 723.14,160.73 723.86,160.56 724.59,161.17 725.31,160.97 726.04,161.9 726.76,161.7 727.49,162.46 728.21,162.57 728.94,163.28 729.66,162.94 730.38,163.81 731.11,163.85 731.83,164.72 732.56,164.2 733.28,165.16 734.01,165.01 734.73,165.58 735.45,165.32 736.18,166.32 736.9,165.79 737.63,166.62 738.35,166.21 739.08,167.07 739.8,166.9 740.53,167.55 741.25,167.19 741.97,168.06 742.7,167.98 743.42,168.62 744.15,168.23 744.87,169.11 745.6,168.82 746.32,169.59 747.05,169.08 747.77,170.09 748.49,169.72 749.22,170.63 749.94,170.1 750.67,171.14 751.39,170.67 752.12,171.35 752.84,171.29 753.56,171.85 754.29,171.56 755.01,172.24 755.74,171.99 756.46,172.73 757.19,172.35 757.91,173.06 758.64,172.44 759.36,173.18 760.08,172.99 760.81,173.61 761.53,173.38 762.26,174.09 762.98,173.55 763.71,174.33 764.43,173.94 765.16,174.7 765.88,174.43 766.6,175.32 767.33,175.07 768.05,175.64 768.78,175.36 769.5,176.38 770.23,176 770.95,176.73 771.67,176.16 772.4,177.09 773.12,176.89 773.85,177.62 774.57,177.56 775.3,178.18 776.02,177.88 776.75,178.54 777.47,178.23 778.19,179.07 778.92,178.76 779.64,179.6 780.37,179.35 781.09,180.01 781.82,179.64 782.54,180.07 783.27,179.78 783.99,180.45 784.71,180.13 785.44,180.62 786.16,180.23 786.89,180.78 787.61,180.46 788.34,181.12 789.06,180.57 789.78,181.26 790.51,180.85 791.23,181.58 791.96,180.95 792.68,181.83 793.41,181.26 794.13,182.15 794.86,181.66 795.58,182.14 796.3,181.67 797.03,182.64 797.75,181.97 798.48,182.59 799.2,182 799.93,182.66 800.65,182.27 801.38,182.88 802.1,182.24 802.82,183.08 803.55,182.5 804.27,183 805,182.71 805.72,183.22 806.45,182.83 807.17,183.33 807.89,182.93 808.62,183.36 809.34,183.07 810.07,183.51 810.79,183.19 811.52,183.55 812.24,183.31 812.97,184.02 813.69,183.51 814.41,184.21 815.14,183.49 815.86,184.39 816.59,183.9 817.31,184.29 818.04,184.29 818.76,184.29 819.49,184.29 820.21,184.29 820.93,184.29 821.66,184.29 822.38,184.85 823.11,184.29 823.83,184.29 824.56,184.29 825.28,184.29 826,184.29 826.73,184.85 827.45,184.85 828.18,184.29 828.9,184.29 829.63,184.29 830.35,184.29 831.08,184.85 831.8,184.85 832.52,184.85 833.25,184.85 833.97,184.29 834.7,184.29 835.42,184.85 836.15,184.29 836.87,184.85 837.6,184.85 838.32,184.85 839.04,184.29 839.77,184.29 840.49,184.85 841.22,184.85 841.94,184.85 842.67,184.29 843.39,184.85 844.11,184.85 844.84,184.29 845.56,184.29 846.29,184.29 847.01,184.29 847.74,184.29 848.46,184.85 849.19,184.85 849.91,184.29 850.63,184.29 851.36,184.29 852.08,184.29 852.81,184.85 853.53,184.85 854.26,184.29 854.98,184.29 855.71,184.29 856.43,184.85 857.15,184.85 857.88,184.85 858.6,184.29 859.33,184.29 860.05,184.29 860.78,184.85 861.5,184.29 862.22,184.29 862.95,184.29 863.67,184.29 864.4,184.29 865.12,184.29 865.85,184.29 866.57,184.29 867.3,184.29 868.02,184.29 868.74,184.29 869.47,184.85 870.19,184.29 870.92,184.29 871.64,184.29 872.37,184.29 873.09,184.29 873.82,184.29 874.54,184.29 875.26,184.29 875.99,184.85 876.71,184.29 877.44,184.85 878.16,184.29 878.89,184.29 879.61,184.29 880.33,184.29 881.06,184.29 881.78,184.29 882.51,184.29 883.23,184.29 883.96,184.29 884.68,184.29 885.41,184.29 886.13,184.29 886.85,184.29 887.58,184.29 888.3,184.29 889.03,184.29 889.75,184.29 890.48,184.29 891.2,184.29 891.93,184.29 892.65,184.29 893.37,184.29 894.1,184.29 894.82,184.29 895.55,184.85 896.27,184.29 897,184.29 897.72,184.29 898.44,184.85 899.17,184.29 899.89,184.29 900.62,184.29 901.34,184.85 902.07,184.85 902.79,184.85 903.52,184.29 904.24,184.85 904.96,184.85 905.69,184.29 906.41,184.85 907.14,184.85 907.86,184.85 908.59,184.85 909.31,184.85 910.04,184.85 910.76,184.85 911.48,184.85 912.21,184.85 912.93,184.85 913.66,184.85 914.38,184.85 915.11,184.85 915.83,184.85 916.55,184.85 917.28,184.85 918,184.85 918.73,184.85 919.45,184.85 920.18,184.85 920.9,184.85 921.63,184.85 922.35,184.85 923.07,184.85 923.8,184.85 924.52,185.41 925.25,184.85 925.97,184.85 926.7,184.85 927.42,184.85 928.15,184.85 928.87,184.85 929.59,184.85 930.32,184.85 931.04,185.41 931.77,184.85 932.49,184.85 933.22,184.85 933.94,184.85 934.66,184.85 935.39,184.85 936.11,184.85 936.84,184.85 937.56,184.85 938.29,185.41 939.01,184.85 939.74,185.41 940.46,185.41 941.18,185.41 941.91,185.41 942.63,184.85 943.36,185.41 944.08,185.41 944.81,185.41 945.53,184.85 946.26,185.41 946.98,184.85 947.7,185.41 948.43,185.41 949.15,185.41 949.88,185.41 950.6,185.41 951.33,185.41 952.05,185.41 952.77,185.41 953.5,185.41 954.22,185.41 954.95,185.41 955.67,185.41 956.4,185.41 957.12,185.41 957.85,185.41 958.57,185.41 959.29,185.41 960.02,185.41 960.74,185.41 961.47,185.41 962.19,185.41 962.92,185.41 963.64,185.41 964.37,185.97 965.09,185.97 965.81,185.97 966.54,185.97 967.26,185.41 967.99,185.97 968.71,185.97 969.44,185.97 970.16,185.97 970.88,185.97 971.61,185.97 972.33,185.97 973.06,185.97 973.78,185.97 974.51,185.97 975.23,185.97 975.96,185.97 976.68,185.97 977.4,185.97 978.13,185.97 978.85,185.97 979.58,185.97 980.3,185.97 981.03,185.97 981.75,185.97 982.48,185.97 983.2,186.53 983.92,185.97 984.65,185.97 985.37,186.53 986.1,185.97 986.82,186.53 987.55,185.97 988.27,185.97 988.99,185.97 989.72,185.97 990.44,186.53 991.17,185.97 991.89,186.53 992.62,185.97 993.34,185.97 994.07,186.53 994.79,186.53 995.51,185.97 996.24,186.53 996.96,186.53 997.69,186.53 998.41,185.97 999.14,186.53 999.86,186.53 1000.59,186.53 1001.31,185.97 1002.03,185.97 1002.76,186.53 1003.48,186.53 1004.21,186.53 1004.93,186.53 1005.66,186.53 1006.38,186.53 1007.1,186.53 1007.83,186.53 1008.55,186.53 1009.28,186.53 1010,186.53 1010.73,186.53 1011.45,186.53 1012.18,186.53 1012.9,186.53 1013.62,186.53 1014.35,186.53 1015.07,186.53 1015.8,186.53 1016.52,186.53 1017.25,186.53 1017.97,186.53 1018.7,186.53 1019.42,186.53 1020.14,186.53 1020.87,186.53 1021.59,186.53 1022.32,186.53 1023.04,186.53 1023.77,186.53 1024.49,186.53 1025.21,186.53 1025.94,187.09 1026.66,187.09 1027.39,186.53 1028.11,186.53 1028.84,187.09 1029.56,186.53 1030.29,186.53 1031.01,186.53 1031.73,187.09 1032.46,186.53 1033.18,187.09 1033.91,187.09 1034.63,187.09 1035.36,186.53 1036.08,187.09 1036.81,186.53 1037.53,186.53 1038.25,187.09 1038.98,187.09 1039.7,186.53 1040.43,187.09 1041.15,186.53 1041.88,187.09 1042.6,186.53 1043.32,186.53 1044.05,186.53 1044.77,187.09 1045.5,186.53 1046.22,186.53 1046.95,187.09 1047.67,186.53 1048.4,187.09 1049.12,187.09 1049.84,186.53 1050.57,186.53 1051.29,187.09 1052.02,187.09 1052.74,186.53 1053.47,186.53 1054.19,186.53 1054.92,186.53 1055.64,186.53 1056.36,186.53 1057.09,187.09 1057.81,186.53 1058.54,186.53 1059.26,186.53 1059.99,186.53 1060.71,186.53 1061.43,186.53 1062.16,187.09 1062.88,187.09 1063.61,186.53 1064.33,186.53 1065.06,187.09 1065.78,186.53 1066.51,186.53 1067.23,186.53 1067.95,187.09 1068.68,187.09 1069.4,186.53 1070.13,186.53 1070.85,186.53 1071.58,186.53 1072.3,186.53 1073.03,186.53 1073.75,186.53 1074.47,187.09 1075.2,186.53 1075.92,187.09 1076.65,186.53 1077.37,186.53 1078.1,186.53 1078.82,187.09 1079.54,186.53 1080.27,186.53 1080.99,186.53 1081.72,186.53 1082.44,187.09 1083.17,187.09 1083.89,186.53 1084.62,181.49 1085.34,181.6 1086.06,185.97 1086.79,185.97 1087.51,185.97 1088.24,185.97 1088.96,185.97 1089.69,185.97 1090.41,185.97 1091.14,185.97 1091.86,185.41 1092.58,185.97 1093.31,185.97 1094.03,185.41 1094.76,185.97 1095.48,185.97 1096.21,185.41 1096.93,185.97 1097.65,185.97 1098.38,185.97 1099.1,185.97 1099.83,185.97 1100.55,186.53 1101.28,185.97 1102,185.97 1102.73,186.53 1103.45,185.97 1104.17,185.97 1104.9,185.97 1105.62,186.53 1106.35,186.53 1107.07,186.53 1107.8,186.53 1108.52,186.53 1109.25,186.53 1109.97,187.09 1110.69,187.09 1111.42,187.09 1112.14,186.53 1112.87,187.09 1113.59,187.09 1114.32,187.09 1115.04,186.53 1115.76,187.09 1116.49,187.09 1117.21,186.53 1117.94,187.09 1118.66,186.53 1119.39,187.09 1120.11,187.09 1120.84,187.09 1121.56,187.09 1122.28,187.09 1123.01,187.09 1123.73,187.09 1124.46,187.09 1125.18,186.53 1125.91,187.09 1126.63,187.09 1127.36,187.09 1128.08,187.09 1128.8,187.09 1129.53,187.09 1130.25,187.09 1130.98,187.09 1131.7,187.09 1132.43,187.09 1133.15,187.09 1133.87,187.09 1134.6,187.09 1135.32,187.09 1136.05,187.09 1136.77,187.09 1137.5,187.09 1138.22,187.09 1138.95,187.09 1139.67,187.09 1140.39,187.65 1141.12,187.09 1141.84,187.09 1142.57,187.09 1143.29,187.09 1144.02,187.09 1144.74,187.09 1145.47,187.65 1146.19,187.09 1146.91,187.09 1147.64,187.09 1148.36,187.09 1149.09,187.65 1149.81,187.09"/>
</g>
<path d="M107.5 270.5V275.45M252.5 270.5V275.45M397.5 270.5V275.45M542.5 270.5V275.45M686.5 270.5V275.45M831.5 270.5V275.45M976.5 270.5V275.45M1121.5 270.5V275.45M55.5 264.5H50.05M55.5 208.5H50.05M55.5 152.5H50.05M55.5 96.5H50.05M55.5 40.5H50.05" stroke="#000" stroke-width="1.05" fill="none"/>
<text x="107" y="290.75" font-size="13.55" text-anchor="middle">0</text>
<text x="251.88" y="290.75" font-size="13.55" text-anchor="middle">200</text>
<text x="396.76" y="290.75" font-size="13.55" text-anchor="middle">400</text>
<text x="541.64" y="290.75" font-size="13.55" text-anchor="middle">600</text>
<text x="686.52" y="290.75" font-size="13.55" text-anchor="middle">800</text>
<text x="831.4" y="290.75" font-size="13.55" text-anchor="middle">1000</text>
<text x="976.28" y="290.75" font-size="13.55" text-anchor="middle">1200</text>
<text x="1121.16" y="290.75" font-size="13.55" text-anchor="middle">1400</text>
<text x="44.45" y="269.55" font-size="13.55" text-anchor="end">5400</text>
<text x="44.45" y="213.6" font-size="13.55" text-anchor="end">5500</text>
<text x="44.45" y="157.65" font-size="13.55" text-anchor="end">5600</text>
<text x="44.45" y="101.7" font-size="13.55" text-anchor="end">5700</text>
<text x="44.45" y="45.75" font-size="13.55" text-anchor="end">5800</text>
<text x="627.9" y="310.75" font-size="13.55" text-anchor="middle">minute</text>
<rect x="55.5" y="34.5" width="1147" height="236" fill="none" stroke="#000" stroke-width="1.11"/>
<rect x="1053.4" y="41.5" width="142.2" height="45.6" rx="2.8" fill="#fff" fill-opacity="0.8" stroke="#ccc" stroke-opacity="0.8" stroke-width="1.11"/>
<path d="M1057.9 52.85h27.8" stroke="#1f77b4" stroke-width="2.08" stroke-linecap="square"/>
<path d="M1057.9 73.9h27.8" stroke="#ff7f0e" stroke-width="2.08" stroke-linecap="square"/>
<text x="1101.4" y="57.5" font-size="13.89">Ws_E44_imp</text>
<text x="1101.4" y="78.7" font-size="13.89">Ws_E44</text>
<path d="M107.5 322.5V558.5M252.5 322.5V558.5M397.5 322.5V558.5M542.5 322.5V558.5M686.5 322.5V558.5M831.5 322.5V558.5M976.5 322.5V558.5M1121.5 322.5V558.5M55.5 547.5H1202.5M55.5 514.5H1202.5M55.5 480.5H1202.5M55.5 447.5H1202.5M55.5 413.5H1202.5M55.5 380.5H1202.5M55.5 346.5H1202.5" stroke="#b0b0b0" stroke-width="1.05" fill="none"/>
<g clip-path="url(#cb)" fill="none">
<path d="M54.96 524H1204.5" stroke="#000" stroke-dasharray="7.709 3.333" stroke-width="2.02"/>
<path d="M54.96 512H1204.5" stroke="#f00" stroke-dasharray="7.709 3.333" stroke-width="2.02"/>
<path d="M54.96 432H1204.5" stroke="#f00" stroke-dasharray="7.709 3.333" stroke-width="2.02"/>
<polygon points="103,543 501,543 501,544.7 498,547.4 501,550.2 501,551.9 103,551.9 103,550.2 105.7,547.4 103,544.7" fill="#1f77b4"/>
<polygon points="492,328 1154.8,328 1154.8,329.7 1151.85,332.45 1154.8,335.1 1154.8,336.8 492,336.8 492,335.1 495.3,332.45 492,329.7" fill="#1f77b4"/>
<path d="M496.05 547.4V332.4" stroke="#1f77b4" stroke-width="2.0"/>
<polyline stroke="#ff7f0e" stroke-width="2.08" stroke-linejoin="round" stroke-linecap="square" points="107.4,546.9 108.12,546.9 108.85,546.9 109.57,546.9 110.3,546.9 111.02,546.9 111.75,546.9 112.47,546.9 113.2,546.9 113.92,546.9 114.64,546.9 115.37,546.9 116.09,546.9 116.82,546.9 117.54,546.9 118.27,546.9 118.99,546.9 119.71,546.9 120.44,546.9 121.16,546.9 121.89,546.9 122.61,546.9 123.34,546.9 124.06,546.9 124.79,546.9 125.51,546.9 126.23,546.9 126.96,546.9 127.68,546.9 128.41,546.9 129.13,546.9 129.86,546.9 130.58,546.9 131.31,546.9 132.03,546.9 132.75,546.9 133.48,546.9 134.2,546.9 134.93,546.9 135.65,546.9 136.38,546.9 137.1,546.9 137.82,546.9 138.55,546.9 139.27,546.9 140,546.9 140.72,546.9 141.45,546.9 142.17,546.9 142.9,546.9 143.62,546.9 144.34,546.9 145.07,546.9 145.79,546.9 146.52,546.9 147.24,546.9 147.97,546.9 148.69,546.9 149.42,546.9 150.14,546.9 150.86,546.9 151.59,546.9 152.31,546.9 153.04,546.9 153.76,546.9 154.49,546.9 155.21,546.9 155.93,546.9 156.66,546.9 157.38,546.9 158.11,546.9 158.83,546.9 159.56,546.9 160.28,546.9 161.01,546.9 161.73,546.9 162.45,546.9 163.18,546.9 163.9,546.9 164.63,546.9 165.35,539.7 166.08,546.9 166.8,546.9 167.53,546.9 168.25,546.9 168.97,546.9 169.7,546.9 170.42,546.9 171.15,546.9 171.87,546.9 172.6,546.9 173.32,546.9 174.04,546.9 174.77,546.9 175.49,546.9 176.22,546.9 176.94,546.9 177.67,546.9 178.39,546.9 179.12,546.9 179.84,546.9 180.56,546.9 181.29,546.9 182.01,546.9 182.74,546.9 183.46,546.9 184.19,546.9 184.91,546.9 185.64,546.9 186.36,546.9 187.08,546.9 187.81,546.9 188.53,546.9 189.26,546.9 189.98,546.9 190.71,546.9 191.43,546.9 192.15,546.9 192.88,546.9 193.6,546.9 194.33,546.9 195.05,546.9 195.78,546.9 196.5,546.9 197.23,546.9 197.95,546.9 198.67,546.9 199.4,546.9 200.12,546.9 200.85,546.9 201.57,546.9 202.3,546.9 203.02,546.9 203.75,546.9 204.47,546.9 205.19,546.9 205.92,546.9 206.64,546.9 207.37,546.9 208.09,546.9 208.82,546.9 209.54,546.9 210.26,546.9 210.99,546.9 211.71,546.9 212.44,546.9 213.16,546.9 213.89,546.9 214.61,546.9 215.34,546.9 216.06,546.9 216.78,546.9 217.51,546.9 218.23,546.9 218.96,546.9 219.68,546.9 220.41,546.9 221.13,546.9 221.86,546.9 222.58,546.9 223.3,546.9 224.03,546.9 224.75,546.9 225.48,546.9 226.2,546.9 226.93,546.9 227.65,546.9 228.37,546.9 229.1,546.9 229.82,546.9 230.55,546.9 231.27,546.9 232,546.9 232.72,546.9 233.45,546.9 234.17,546.9 234.89,546.9 235.62,546.9 236.34,546.9 237.07,546.9 237.79,546.9 238.52,546.9 239.24,546.9 239.97,546.9 240.69,546.9 241.41,546.9 242.14,546.9 242.86,546.9 243.59,546.9 244.31,546.9 245.04,546.9 245.76,546.9 246.48,546.9 247.21,546.9 247.93,546.9 248.66,546.9 249.38,546.9 250.11,546.9 250.83,546.9 251.56,546.9 252.28,546.9 253,546.9 253.73,546.9 254.45,546.9 255.18,546.9 255.9,546.9 256.63,546.9 257.35,546.9 258.08,546.9 258.8,546.9 259.52,546.9 260.25,546.9 260.97,546.9 261.7,546.9 262.42,546.9 263.15,546.9 263.87,546.9 264.59,546.9 265.32,546.9 266.04,546.9 266.77,546.9 267.49,546.9 268.22,546.9 268.94,546.9 269.67,546.9 270.39,546.9 271.11,546.9 271.84,546.9 272.56,546.9 273.29,546.9 274.01,546.9 274.74,546.9 275.46,546.9 276.19,546.9 276.91,546.9 277.63,546.9 278.36,546.9 279.08,546.9 279.81,546.9 280.53,546.9 281.26,546.9 281.98,546.9 282.7,546.9 283.43,546.9 284.15,546.9 284.88,539.7 285.6,546.9 286.33,546.9 287.05,546.9 287.78,546.9 288.5,546.9 289.22,546.9 289.95,546.9 290.67,546.9 291.4,546.9 292.12,546.9 292.85,546.9 293.57,546.9 294.3,546.9 295.02,546.9 295.74,546.9 296.47,546.9 297.19,546.9 297.92,546.9 298.64,546.9 299.37,546.9 300.09,546.9 300.81,546.9 301.54,546.9 302.26,546.9 302.99,546.9 303.71,546.9 304.44,546.9 305.16,546.9 305.89,546.9 306.61,546.9 307.33,546.9 308.06,546.9 308.78,546.9 309.51,546.9 310.23,546.9 310.96,546.9 311.68,546.9 312.41,546.9 313.13,546.9 313.85,546.9 314.58,546.9 315.3,546.9 316.03,546.9 316.75,546.9 317.48,546.9 318.2,546.9 318.92,546.9 319.65,546.9 320.37,546.9 321.1,546.9 321.82,546.9 322.55,546.9 323.27,546.9 324,546.9 324.72,546.9 325.44,546.9 326.17,546.9 326.89,546.9 327.62,546.9 328.34,546.9 329.07,546.9 329.79,546.9 330.52,546.9 331.24,546.9 331.96,546.9 332.69,546.9 333.41,546.9 334.14,546.9 334.86,546.9 335.59,546.9 336.31,546.9 337.03,546.9 337.76,546.9 338.48,546.9 339.21,546.9 339.93,546.9 340.66,546.9 341.38,546.9 342.11,546.9 342.83,546.9 343.55,546.9 344.28,546.9 345,546.9 345.73,546.9 346.45,546.9 347.18,546.9 347.9,546.9 348.63,546.9 349.35,546.9 350.07,546.9 350.8,546.9 351.52,546.9 352.25,546.9 352.97,546.9 353.7,546.9 354.42,546.9 355.14,546.9 355.87,546.9 356.59,546.9 357.32,546.9 358.04,546.9 358.77,546.9 359.49,546.9 360.22,546.9 360.94,546.9 361.66,546.9 362.39,546.9 363.11,546.9 363.84,546.9 364.56,546.9 365.29,546.9 366.01,546.9 366.74,546.9 367.46,546.9 368.18,546.9 368.91,546.9 369.63,546.9 370.36,546.9 371.08,546.9 371.81,546.9 372.53,546.9 373.25,546.9 373.98,546.9 374.7,546.9 375.43,546.9 376.15,546.9 376.88,546.9 377.6,546.9 378.33,546.9 379.05,546.9 379.77,546.9 380.5,546.9 381.22,546.9 381.95,546.9 382.67,546.9 383.4,546.9 384.12,546.9 384.85,546.9 385.57,546.9 386.29,546.9 387.02,546.9 387.74,546.9 388.47,546.9 389.19,546.9 389.92,546.9 390.64,546.9 391.36,546.9 392.09,546.9 392.81,546.9 393.54,546.9 394.26,546.9 394.99,546.9 395.71,546.9 396.44,546.9 397.16,546.9 397.88,546.9 398.61,546.9 399.33,546.9 400.06,546.9 400.78,546.9 401.51,546.9 402.23,546.9 402.96,546.9 403.68,546.9 404.4,546.9 405.13,546.9 405.85,546.9 406.58,546.9 407.3,546.9 408.03,546.9 408.75,546.9 409.47,546.9 410.2,546.9 410.92,546.9 411.65,546.9 412.37,546.9 413.1,546.9 413.82,546.9 414.55,546.9 415.27,546.9 415.99,546.9 416.72,546.9 417.44,546.9 418.17,546.9 418.89,546.9 419.62,546.9 420.34,546.9 421.07,546.9 421.79,546.9 422.51,546.9 423.24,546.9 423.96,546.9 424.69,546.9 425.41,546.9 426.14,546.9 426.86,546.9 427.58,546.9 428.31,546.9 429.03,546.9 429.76,546.9 430.48,546.9 431.21,546.9 431.93,546.9 432.66,546.9 433.38,546.9 434.1,546.9 434.83,546.9 435.55,546.9 436.28,546.9 437,546.9 437.73,546.9 438.45,546.9 439.18,546.9 439.9,546.9 440.62,546.9 441.35,546.9 442.07,546.9 442.8,546.9 443.52,546.9 444.25,546.9 444.97,546.9 445.69,546.9 446.42,546.9 447.14,546.9 447.87,546.9 448.59,546.9 449.32,546.9 450.04,546.9 450.77,546.9 451.49,546.9 452.21,546.9 452.94,546.9 453.66,546.9 454.39,546.9 455.11,546.9 455.84,546.9 456.56,546.9 457.29,546.9 458.01,546.9 458.73,546.9 459.46,546.9 460.18,546.9 460.91,546.9 461.63,546.9 462.36,546.9 463.08,546.9 463.8,546.9 464.53,546.9 465.25,546.9 465.98,546.9 466.7,546.9 467.43,546.9 468.15,546.9 468.88,546.9 469.6,546.9 470.32,546.9 471.05,546.9 471.77,546.9 472.5,546.9 473.22,546.9 473.95,546.9 474.67,538.86 475.4,530.99 476.12,530.99 476.84,530.99 477.57,530.99 478.29,530.99 479.02,530.99 479.74,530.99 480.47,530.99 481.19,535.51 481.91,536.51 482.64,537.69 483.36,546.9 484.09,546.9 484.81,546.9 485.54,546.9 486.26,546.9 486.99,546.9 487.71,546.9 488.43,546.9 489.16,546.9 489.88,546.9 490.61,546.9 491.33,546.9 492.06,546.9 492.78,546.9 493.51,546.9 494.23,546.9 494.95,546.9 495.68,546.9 496.4,546.9 497.13,546.9 497.85,546.9 498.58,546.9 499.3,546.9 500.02,546.9 500.75,546.9 501.47,546.9 502.2,546.9 502.92,546.9 503.65,546.9 504.37,546.9 505.1,546.9 505.82,546.9 506.54,546.9 507.27,546.9 507.99,546.9 508.72,546.9 509.44,546.9 510.17,546.9 510.89,546.9 511.62,546.9 512.34,546.9 513.06,546.9 513.79,546.9 514.51,546.9 515.24,546.9 515.96,546.9 516.69,546.9 517.41,546.9 518.13,546.9 518.86,546.9 519.58,546.9 520.31,546.9 521.03,546.9 521.76,546.9 522.48,546.9 523.21,546.9 523.93,546.9 524.65,546.9 525.38,546.9 526.1,546.9 526.83,546.9 527.55,546.9 528.28,546.9 529,546.9 529.73,546.9 530.45,546.9 531.17,546.9 531.9,546.9 532.62,546.9 533.35,546.9 534.07,546.9 534.8,546.9 535.52,546.9 536.24,546.9 536.97,546.9 537.69,546.9 538.42,546.9 539.14,546.9 539.87,546.9 540.59,546.9 541.32,546.9 542.04,546.9 542.76,546.9 543.49,546.9 544.21,546.9 544.94,546.9 545.66,546.9 546.39,546.9 547.11,546.9 547.84,546.9 548.56,546.9 549.28,546.9 550.01,546.9 550.73,546.9 551.46,546.9 552.18,546.9 552.91,546.9 553.63,546.9 554.35,546.9 555.08,546.9 555.8,546.9 556.53,546.9 557.25,546.9 557.98,546.9 558.7,546.9 559.43,546.9 560.15,546.9 560.87,546.9 561.6,546.9 562.32,546.9 563.05,546.9 563.77,546.9 564.5,546.9 565.22,546.9 565.95,546.9 566.67,546.9 567.39,546.9 568.12,546.9 568.84,546.9 569.57,546.9 570.29,546.9 571.02,546.9 571.74,546.9 572.46,546.9 573.19,546.9 573.91,546.9 574.64,546.9 575.36,546.9 576.09,537.18 576.81,527.97 577.54,527.64 578.26,527.64 578.98,527.64 579.71,527.64 580.43,527.64 581.16,527.64 581.88,527.64 582.61,535.51 583.33,536.35 584.06,537.18 584.78,546.9 585.5,546.9 586.23,546.9 586.95,546.9 587.68,546.9 588.4,546.9 589.13,546.9 589.85,546.9 590.57,546.9 591.3,546.9 592.02,546.9 592.75,546.9 593.47,546.9 594.2,546.9 594.92,546.9 595.65,546.9 596.37,546.9 597.09,546.9 597.82,546.9 598.54,546.9 599.27,546.9 599.99,546.9 600.72,546.9 601.44,546.9 602.17,546.9 602.89,546.9 603.61,546.9 604.34,546.9 605.06,546.9 605.79,546.9 606.51,546.9 607.24,546.9 607.96,546.9 608.68,546.9 609.41,546.9 610.13,546.9 610.86,546.9 611.58,546.9 612.31,546.9 613.03,546.9 613.76,546.9 614.48,546.9 615.2,546.9 615.93,546.9 616.65,546.9 617.38,546.9 618.1,546.9 618.83,546.9 619.55,546.9 620.28,546.9 621,546.9 621.72,546.9 622.45,546.9 623.17,546.9 623.9,546.9 624.62,546.9 625.35,546.9 626.07,546.9 626.79,546.9 627.52,546.9 628.24,546.9 628.97,546.9 629.69,546.9 630.42,546.9 631.14,546.9 631.87,546.9 632.59,546.9 633.31,546.9 634.04,546.9 634.76,546.9 635.49,546.9 636.21,546.9 636.94,546.9 637.66,546.9 638.39,546.9 639.11,546.9 639.83,546.9 640.56,546.9 641.28,546.9 642.01,546.9 642.73,546.9 643.46,546.9 644.18,546.9 644.9,546.9 645.63,546.9 646.35,546.9 647.08,546.9 647.8,546.9 648.53,546.9 649.25,546.9 649.98,546.9 650.7,546.9 651.42,546.9 652.15,546.9 652.87,546.9 653.6,546.9 654.32,546.9 655.05,546.9 655.77,546.9 656.5,546.9 657.22,546.9 657.94,546.9 658.67,546.9 659.39,546.9 660.12,546.9 660.84,546.9 661.57,546.9 662.29,546.9 663.01,546.9 663.74,546.9 664.46,546.9 665.19,546.9 665.91,546.9 666.64,546.9 667.36,546.9 668.09,546.9 668.81,546.9 669.53,546.9 670.26,546.9 670.98,546.9 671.71,546.9 672.43,546.9 673.16,546.9 673.88,546.9 674.61,546.9 675.33,546.9 676.05,546.9 676.78,546.9 677.5,546.9 678.23,546.9 678.95,546.9 679.68,546.9 680.4,546.9 681.12,546.9 681.85,546.9 682.57,546.9 683.3,546.9 684.02,546.9 684.75,546.9 685.47,546.9 686.2,546.9 686.92,546.9 687.64,546.9 688.37,546.9 689.09,546.9 689.82,546.9 690.54,546.9 691.27,546.9 691.99,546.9 692.72,546.9 693.44,546.9 694.16,546.9 694.89,546.9 695.61,546.9 696.34,546.9 697.06,546.9 697.79,546.9 698.51,546.9 699.23,546.9 699.96,546.9 700.68,546.9 701.41,546.9 702.13,546.9 702.86,546.9 703.58,546.9 704.31,546.9 705.03,546.9 705.75,546.9 706.48,546.9 707.2,546.9 707.93,546.9 708.65,546.9 709.38,546.9 710.1,546.9 710.83,546.9 711.55,546.9 712.27,546.9 713,546.9 713.72,546.9 714.45,546.9 715.17,546.9 715.9,546.9 716.62,546.9 717.34,546.9 718.07,546.9 718.79,546.9 719.52,546.9 720.24,546.9 720.97,546.9 721.69,546.9 722.42,546.9 723.14,546.9 723.86,546.9 724.59,546.9 725.31,546.9 726.04,546.9 726.76,546.9 727.49,546.9 728.21,546.9 728.94,546.9 729.66,546.9 730.38,546.9 731.11,546.9 731.83,546.9 732.56,546.9 733.28,546.9 734.01,546.9 734.73,546.9 735.45,546.9 736.18,546.9 736.9,546.9 737.63,546.9 738.35,546.9 739.08,546.9 739.8,546.9 740.53,546.9 741.25,546.9 741.97,546.9 742.7,546.9 743.42,546.9 744.15,546.9 744.87,546.9 745.6,546.9 746.32,546.9 747.05,546.9 747.77,546.9 748.49,546.9 749.22,546.9 749.94,546.9 750.67,546.9 751.39,546.9 752.12,546.9 752.84,546.9 753.56,546.9 754.29,546.9 755.01,546.9 755.74,546.9 756.46,546.9 757.19,546.9 757.91,546.9 758.64,546.9 759.36,546.9 760.08,546.9 760.81,546.9 761.53,546.9 762.26,546.9 762.98,546.9 763.71,546.9 764.43,546.9 765.16,546.9 765.88,546.9 766.6,546.9 767.33,546.9 768.05,546.9 768.78,546.9 769.5,546.9 770.23,546.9 770.95,546.9 771.67,546.9 772.4,546.9 773.12,546.9 773.85,546.9 774.57,546.9 775.3,546.9 776.02,546.9 776.75,546.9 777.47,546.9 778.19,546.9 778.92,546.9 779.64,546.9 780.37,546.9 781.09,546.9 781.82,546.9 782.54,546.9 783.27,546.9 783.99,546.9 784.71,546.9 785.44,546.9 786.16,546.9 786.89,546.9 787.61,546.9 788.34,546.9 789.06,546.9 789.78,546.9 790.51,546.9 791.23,546.9 791.96,546.9 792.68,546.9 793.41,546.9 794.13,546.9 794.86,546.9 795.58,546.9 796.3,546.9 797.03,546.9 797.75,546.9 798.48,546.9 799.2,546.9 799.93,546.9 800.65,546.9 801.38,546.9 802.1,546.9 802.82,546.9 803.55,546.9 804.27,546.9 805,546.9 805.72,546.9 806.45,546.9 807.17,546.9 807.89,546.9 808.62,546.9 809.34,546.9 810.07,546.9 810.79,546.9 811.52,546.9 812.24,546.9 812.97,546.9 813.69,546.9 814.41,546.9 815.14,546.9 815.86,546.9 816.59,546.9 817.31,546.9 818.04,546.9 818.76,546.9 819.49,546.9 820.21,546.9 820.93,546.9 821.66,546.9 822.38,546.9 823.11,546.9 823.83,546.9 824.56,546.9 825.28,546.9 826,546.9 826.73,546.9 827.45,546.9 828.18,546.9 828.9,546.9 829.63,546.9 830.35,546.9 831.08,546.9 831.8,546.9 832.52,546.9 833.25,546.9 833.97,546.9 834.7,546.9 835.42,546.9 836.15,546.9 836.87,546.9 837.6,546.9 838.32,546.9 839.04,546.9 839.77,546.9 840.49,546.9 841.22,546.9 841.94,546.9 842.67,546.9 843.39,546.9 844.11,546.9 844.84,546.9 845.56,546.9 846.29,546.9 847.01,546.9 847.74,546.9 848.46,546.9 849.19,546.9 849.91,546.9 850.63,546.9 851.36,546.9 852.08,546.9 852.81,546.9 853.53,546.9 854.26,546.9 854.98,546.9 855.71,546.9 856.43,546.9 857.15,546.9 857.88,546.9 858.6,546.9 859.33,546.9 860.05,546.9 860.78,546.9 861.5,546.9 862.22,546.9 862.95,546.9 863.67,546.9 864.4,546.9 865.12,546.9 865.85,546.9 866.57,546.9 867.3,546.9 868.02,546.9 868.74,546.9 869.47,546.9 870.19,546.9 870.92,546.9 871.64,546.9 872.37,546.9 873.09,546.9 873.82,546.9 874.54,546.9 875.26,546.9 875.99,546.9 876.71,546.9 877.44,546.9 878.16,546.9 878.89,546.9 879.61,546.9 880.33,546.9 881.06,546.9 881.78,546.9 882.51,546.9 883.23,546.9 883.96,546.9 884.68,546.9 885.41,546.9 886.13,546.9 886.85,546.9 887.58,546.9 888.3,546.9 889.03,546.9 889.75,546.9 890.48,546.9 891.2,546.9 891.93,546.9 892.65,546.9 893.37,546.9 894.1,546.9 894.82,546.9 895.55,546.9 896.27,546.9 897,546.9 897.72,546.9 898.44,546.9 899.17,546.9 899.89,546.9 900.62,546.9 901.34,546.9 902.07,546.9 902.79,546.9 903.52,546.9 904.24,546.9 904.96,546.9 905.69,546.9 906.41,546.9 907.14,546.9 907.86,546.9 908.59,546.9 909.31,546.9 910.04,546.9 910.76,546.9 911.48,546.9 912.21,546.9 912.93,546.9 913.66,546.9 914.38,546.9 915.11,546.9 915.83,546.9 916.55,546.9 917.28,546.9 918,546.9 918.73,546.9 919.45,546.9 920.18,546.9 920.9,546.9 921.63,546.9 922.35,546.9 923.07,546.9 923.8,546.9 924.52,546.9 925.25,546.9 925.97,546.9 926.7,546.9 927.42,546.9 928.15,546.9 928.87,546.9 929.59,546.9 930.32,546.9 931.04,546.9 931.77,546.9 932.49,546.9 933.22,546.9 933.94,546.9 934.66,546.9 935.39,546.9 936.11,546.9 936.84,546.9 937.56,546.9 938.29,546.9 939.01,546.9 939.74,546.9 940.46,546.9 941.18,546.9 941.91,546.9 942.63,546.9 943.36,546.9 944.08,546.9 944.81,546.9 945.53,546.9 946.26,546.9 946.98,546.9 947.7,546.9 948.43,546.9 949.15,546.9 949.88,546.9 950.6,546.9 951.33,546.9 952.05,546.9 952.77,546.9 953.5,546.9 954.22,546.9 954.95,546.9 955.67,546.9 956.4,546.9 957.12,546.9 957.85,546.9 958.57,546.9 959.29,546.9 960.02,546.9 960.74,546.9 961.47,546.9 962.19,546.9 962.92,546.9 963.64,546.9 964.37,546.9 965.09,546.9 965.81,546.9 966.54,546.9 967.26,546.9 967.99,546.9 968.71,546.9 969.44,546.9 970.16,546.9 970.88,546.9 971.61,546.9 972.33,546.9 973.06,546.9 973.78,546.9 974.51,546.9 975.23,546.9 975.96,546.9 976.68,546.9 977.4,546.9 978.13,546.9 978.85,546.9 979.58,546.9 980.3,546.9 981.03,546.9 981.75,546.9 982.48,546.9 983.2,546.9 983.92,546.9 984.65,546.9 985.37,546.9 986.1,546.9 986.82,546.9 987.55,546.9 988.27,546.9 988.99,546.9 989.72,546.9 990.44,546.9 991.17,546.9 991.89,546.9 992.62,546.9 993.34,546.9 994.07,546.9 994.79,546.9 995.51,546.9 996.24,546.9 996.96,546.9 997.69,546.9 998.41,546.9 999.14,546.9 999.86,546.9 1000.59,546.9 1001.31,546.9 1002.03,546.9 1002.76,546.9 1003.48,546.9 1004.21,546.9 1004.93,546.9 1005.66,546.9 1006.38,546.9 1007.1,546.9 1007.83,546.9 1008.55,546.9 1009.28,546.9 1010,546.9 1010.73,546.9 1011.45,546.9 1012.18,546.9 1012.9,546.9 1013.62,546.9 1014.35,546.9 1015.07,546.9 1015.8,546.9 1016.52,546.9 1017.25,546.9 1017.97,546.9 1018.7,546.9 1019.42,546.9 1020.14,546.9 1020.87,546.9 1021.59,546.9 1022.32,546.9 1023.04,546.9 1023.77,546.9 1024.49,546.9 1025.21,546.9 1025.94,546.9 1026.66,546.9 1027.39,546.9 1028.11,546.9 1028.84,546.9 1029.56,546.9 1030.29,546.9 1031.01,546.9 1031.73,546.9 1032.46,546.9 1033.18,546.9 1033.91,546.9 1034.63,546.9 1035.36,546.9 1036.08,546.9 1036.81,546.9 1037.53,546.9 1038.25,546.9 1038.98,546.9 1039.7,546.9 1040.43,546.9 1041.15,546.9 1041.88,546.9 1042.6,546.9 1043.32,546.9 1044.05,546.9 1044.77,546.9 1045.5,546.9 1046.22,546.9 1046.95,546.9 1047.67,546.9 1048.4,546.9 1049.12,546.9 1049.84,546.9 1050.57,546.9 1051.29,546.9 1052.02,546.9 1052.74,546.9 1053.47,546.9 1054.19,546.9 1054.92,546.9 1055.64,546.9 1056.36,546.9 1057.09,546.9 1057.81,546.9 1058.54,546.9 1059.26,546.9 1059.99,546.9 1060.71,546.9 1061.43,546.9 1062.16,546.9 1062.88,546.9 1063.61,546.9 1064.33,546.9 1065.06,546.9 1065.78,546.9 1066.51,546.9 1067.23,546.9 1067.95,546.9 1068.68,546.9 1069.4,546.9 1070.13,546.9 1070.85,546.9 1071.58,546.9 1072.3,546.9 1073.03,546.9 1073.75,546.9 1074.47,546.9 1075.2,546.9 1075.92,546.9 1076.65,546.9 1077.37,546.9 1078.1,546.9 1078.82,546.9 1079.54,546.9 1080.27,546.9 1080.99,546.9 1081.72,546.9 1082.44,546.9 1083.17,546.9 1083.89,546.9 1084.62,546.9 1085.34,546.9 1086.06,546.9 1086.79,546.9 1087.51,546.9 1088.24,546.9 1088.96,546.9 1089.69,546.9 1090.41,546.9 1091.14,546.9 1091.86,546.9 1092.58,546.9 1093.31,546.9 1094.03,546.9 1094.76,546.9 1095.48,546.9 1096.21,546.9 1096.93,546.9 1097.65,546.9 1098.38,546.9 1099.1,546.9 1099.83,546.9 1100.55,546.9 1101.28,546.9 1102,546.9 1102.73,546.9 1103.45,546.9 1104.17,546.9 1104.9,546.9 1105.62,546.9 1106.35,546.9 1107.07,546.9 1107.8,546.9 1108.52,546.9 1109.25,546.9 1109.97,546.9 1110.69,546.9 1111.42,546.9 1112.14,546.9 1112.87,546.9 1113.59,546.9 1114.32,546.9 1115.04,546.9 1115.76,546.9 1116.49,546.9 1117.21,546.9 1117.94,546.9 1118.66,546.9 1119.39,546.9 1120.11,546.9 1120.84,546.9 1121.56,546.9 1122.28,546.9 1123.01,546.9 1123.73,546.9 1124.46,546.9 1125.18,546.9 1125.91,546.9 1126.63,546.9 1127.36,546.9 1128.08,546.9 1128.8,546.9 1129.53,546.9 1130.25,546.9 1130.98,546.9 1131.7,546.9 1132.43,546.9 1133.15,546.9 1133.87,546.9 1134.6,546.9 1135.32,546.9 1136.05,546.9 1136.77,546.9 1137.5,546.9 1138.22,546.9 1138.95,546.9 1139.67,546.9 1140.39,546.9 1141.12,546.9 1141.84,546.9 1142.57,546.9 1143.29,546.9 1144.02,546.9 1144.74,546.9 1145.47,546.9 1146.19,546.9 1146.91,546.9 1147.64,546.9 1148.36,546.9 1149.09,546.9 1149.81,546.9"/>
</g>
<path d="M107.5 558.5V563.45M252.5 558.5V563.45M397.5 558.5V563.45M542.5 558.5V563.45M686.5 558.5V563.45M831.5 558.5V563.45M976.5 558.5V563.45M1121.5 558.5V563.45M55.5 547.5H50.05M55.5 514.5H50.05M55.5 480.5H50.05M55.5 447.5H50.05M55.5 413.5H50.05M55.5 380.5H50.05M55.5 346.5H50.05" stroke="#000" stroke-width="1.05" fill="none"/>
<text x="107" y="578.75" font-size="13.55" text-anchor="middle">0</text>
<text x="251.88" y="578.75" font-size="13.55" text-anchor="middle">200</text>
<text x="396.76" y="578.75" font-size="13.55" text-anchor="middle">400</text>
<text x="541.64" y="578.75" font-size="13.55" text-anchor="middle">600</text>
<text x="686.52" y="578.75" font-size="13.55" text-anchor="middle">800</text>
<text x="831.4" y="578.75" font-size="13.55" text-anchor="middle">1000</text>
<text x="976.28" y="578.75" font-size="13.55" text-anchor="middle">1200</text>
<text x="1121.16" y="578.75" font-size="13.55" text-anchor="middle">1400</text>
<text x="44.45" y="552.83" font-size="13.55" text-anchor="end">0</text>
<text x="44.45" y="519.33" font-size="13.55" text-anchor="end">20</text>
<text x="44.45" y="485.83" font-size="13.55" text-anchor="end">40</text>
<text x="44.45" y="452.33" font-size="13.55" text-anchor="end">60</text>
<text x="44.45" y="418.82" font-size="13.55" text-anchor="end">80</text>
<text x="44.45" y="385.32" font-size="13.55" text-anchor="end">100</text>
<text x="44.45" y="351.82" font-size="13.55" text-anchor="end">120</text>
<text x="627.9" y="598.75" font-size="13.55" text-anchor="middle">minute</text>
<rect x="55.5" y="322.5" width="1147" height="236" fill="none" stroke="#000" stroke-width="1.11"/>
<rect x="62.4" y="329.3" width="218.1" height="45.8" rx="2.8" fill="#fff" fill-opacity="0.8" stroke="#ccc" stroke-opacity="0.8" stroke-width="1.11"/>
<path d="M68.1 340.0h27.8" stroke="#1f77b4" stroke-width="2.08" stroke-linecap="square"/>
<path d="M78.43 336.28l8.34 8.34m-8.34 0l8.34 -8.34" stroke="#1f77b4" stroke-width="1.39"/>
<path d="M68.1 361.0h27.8" stroke="#ff7f0e" stroke-width="2.08" stroke-linecap="square"/>
<text x="111.4" y="345.4" font-size="13.89">Ws_E44_spike_cumsum</text>
<text x="111.4" y="366.9" font-size="13.89">Ws_E44_delta_cut</text>
</svg></body></html>
